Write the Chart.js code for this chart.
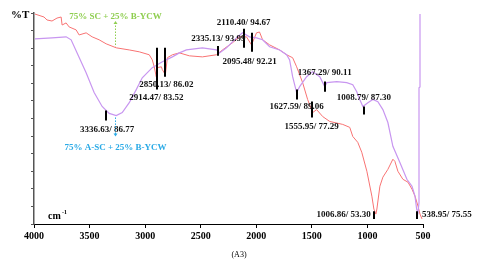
<!DOCTYPE html>
<html>
<head>
<meta charset="utf-8">
<script src="https://cdn.jsdelivr.net/npm/chart.js@4"></script>
<style>
  html, body { margin: 0; padding: 0; background: #fff; }
  canvas { display: block; }
</style>
</head>
<body>
<canvas id="ftir" width="480" height="261"></canvas>
<script>
// 75% SC + 25% B-YCW (red)
const redWn = [3991,3910,3883,3838,3793,3756,3747,3711,3684,3621,3594,3531,3477,3414,3351,3260,3143,3053,2963,2936,2918,2900,2891,2854,2845,2818,2800,2755,2692,2602,2485,2358,2304,2214,2151,2088,2043,1998,1971,1943,1880,1790,1727,1673,1637,1583,1538,1493,1457,1402,1339,1222,1159,1132,1087,1051,1005,960,942,924,915,888,861,816,771,753,726,681,635,599,572,545,527,509];
const redT = [99.5,98.1,96.7,96.2,97.6,98.1,94.3,95.3,93.4,92.0,89.6,90.6,88.7,87.3,85.4,83.5,82.5,81.6,80.2,77.8,74.5,69.8,74.1,74.5,73.1,70.8,78.8,80.2,81.1,79.7,79.2,80.2,82.5,85.9,88.7,88.7,84.9,90.6,91.0,87.3,84.9,82.5,80.2,78.8,74.5,67.0,59.0,52.8,54.2,50.9,48.6,47.2,45.8,41.5,38.7,34.0,25.0,13.2,7.1,4.7,7.1,17.9,22.2,25.9,30.7,29.7,25.0,21.2,19.8,16.5,13.2,8.5,4.7,2.4];

// 75% A-SC + 25% B-YCW (purple)
const purpleWn = [3991,3838,3711,3666,3612,3531,3459,3387,3323,3260,3206,3143,3080,3026,2936,2845,2755,2692,2629,2485,2358,2331,2268,2178,2124,2061,1998,1943,1880,1790,1727,1700,1673,1637,1610,1547,1493,1429,1384,1366,1276,1186,1132,1096,1069,1041,996,951,906,861,816,771,708,645,599,572,557,545,536,536,527,527];
const purpleT = [87.7,88.2,88.7,87.3,81.1,71.7,62.3,55.7,52.4,51.4,52.8,57.5,63.7,69.3,74.1,76.9,79.2,81.1,82.5,83.5,82.5,81.1,83.5,88.2,90.6,88.7,88.2,87.3,84.0,82.5,80.2,77.8,69.8,62.3,65.1,69.8,72.2,69.8,65.1,67.0,67.5,67.0,66.0,62.7,59.0,55.7,57.5,59.0,58.0,54.2,48.1,36.8,29.2,21.2,17.9,13.2,7.0,5.5,10.0,64.6,65.0,99.5];

// peak markers (short black bars)
const peakWn = [3351,2891,2818,2340,2115,2043,1637,1502,1384,1032,942,554];
const peakHi = [53.8,83.5,83.5,84.4,92.5,90.6,63.7,58.0,67.5,55.7,6.1,6.1];
const peakLo = [49.1,63.7,69.8,79.7,83.5,81.6,59.0,50.5,62.7,51.9,2.4,2.4];

// peak labels
const labelText = ['2110.40/ 94.67','2335.13/ 93.99','2095.48/ 92.21','2850.13/ 86.02','2914.47/ 83.52','3336.63/ 86.77','1367.29/ 90.11','1627.59/ 89.06','1008.79/ 87.30','1555.95/ 77.29','1006.86/ 53.30','538.95/ 75.55'];
const labelWn = [2115,2340,2061,2809,2900,3342,1384,1637,1032,1502,969,509];
const labelT = [95.3,87.7,76.9,66.0,59.9,44.8,71.7,55.7,59.9,46.2,4.2,4.2];
const labelAlign = ['center','center','center','center','center','center','center','center','center','center','right','left'];

const xTicks = [4000,3500,3000,2500,2000,1500,1000,500];

const serif = '"Liberation Serif", "DejaVu Serif", serif';

const toPts = (xs, ys) => xs.map((x, i) => ({ x: x, y: ys[i] }));

const notes = {
    id: 'notes',
    afterDatasetsDraw(chart) {
        const ctx = chart.ctx;
        const xs = chart.scales.x, ys = chart.scales.y;
        ctx.save();

        // peak bars
        ctx.strokeStyle = '#000';
        ctx.lineWidth = 2;
        peakWn.forEach((w, i) => {
            const px = Math.round(xs.getPixelForValue(w));
            ctx.beginPath();
            ctx.moveTo(px, ys.getPixelForValue(peakHi[i]));
            ctx.lineTo(px, ys.getPixelForValue(peakLo[i]));
            ctx.stroke();
        });

        // peak labels
        ctx.fillStyle = '#111';
        ctx.font = 'bold 9px ' + serif;
        ctx.textBaseline = 'middle';
        labelText.forEach((t, i) => {
            ctx.textAlign = labelAlign[i];
            ctx.fillText(t, xs.getPixelForValue(labelWn[i]), ys.getPixelForValue(labelT[i]));
        });

        // series captions with dotted pointers
        const cx = Math.round(xs.getPixelForValue(3269)) + 0.5;
        ctx.textAlign = 'center';
        ctx.font = 'bold 9px ' + serif;

        ctx.fillStyle = '#8fce50';
        ctx.fillText('75% SC + 25% B-YCW', cx, ys.getPixelForValue(98.1));
        ctx.strokeStyle = '#8fce50';
        ctx.lineWidth = 1;
        ctx.setLineDash([1.5, 1.5]);
        ctx.beginPath();
        ctx.moveTo(cx, ys.getPixelForValue(95.5));
        ctx.lineTo(cx, ys.getPixelForValue(84.0));
        ctx.stroke();
        ctx.setLineDash([]);
        let ty = ys.getPixelForValue(96.2);
        ctx.beginPath();
        ctx.moveTo(cx, ty);
        ctx.lineTo(cx - 2, ty + 3);
        ctx.lineTo(cx + 2, ty + 3);
        ctx.closePath();
        ctx.fillStyle = '#8fce50';
        ctx.fill();

        ctx.fillStyle = '#2aaae6';
        ctx.fillText('75% A-SC + 25% B-YCW', cx, ys.getPixelForValue(36.3));
        ctx.strokeStyle = '#2aaae6';
        ctx.setLineDash([1.5, 1.5]);
        ctx.beginPath();
        ctx.moveTo(cx, ys.getPixelForValue(50.5));
        ctx.lineTo(cx, ys.getPixelForValue(42.5));
        ctx.stroke();
        ctx.setLineDash([]);
        ty = ys.getPixelForValue(41.5);
        ctx.beginPath();
        ctx.moveTo(cx, ty);
        ctx.lineTo(cx - 2, ty - 3);
        ctx.lineTo(cx + 2, ty - 3);
        ctx.closePath();
        ctx.fillStyle = '#2aaae6';
        ctx.fill();

        // axis captions
        ctx.fillStyle = '#000';
        ctx.textAlign = 'left';
        ctx.font = 'bold 11px ' + serif;
        ctx.fillText('%T', 11, chart.chartArea.top + 2);
        ctx.font = 'bold 10px ' + serif;
        const by = chart.chartArea.bottom - 8;
        ctx.fillText('cm', 48, by);
        ctx.font = 'bold 6px ' + serif;
        ctx.fillText('-1', 48 + 14, by - 4);

        ctx.textAlign = 'center';
        ctx.font = '8px ' + serif;
        ctx.fillText('(A3)', 239, 255);

        ctx.restore();
    }
};

const ctx = document.getElementById('ftir').getContext('2d');

new Chart(ctx, {
    type: 'scatter',
    data: {
        datasets: [{
            label: '75% A-SC + 25% B-YCW',
            data: toPts(purpleWn, purpleT),
            showLine: true,
            borderColor: 'rgb(200, 150, 240)',
            borderWidth: 1.2,
            pointRadius: 0,
            tension: 0
        }, {
            label: '75% SC + 25% B-YCW',
            data: toPts(redWn, redT),
            showLine: true,
            borderColor: 'rgb(248, 115, 115)',
            borderWidth: 1,
            pointRadius: 0,
            tension: 0
        }]
    },
    options: {
        responsive: false,
        animation: false,
        devicePixelRatio: 1,
        layout: {
            padding: { left: 0, right: 57, top: 13, bottom: 0 }
        },
        plugins: {
            legend: { display: false },
            tooltip: { enabled: false }
        },
        scales: {
            x: {
                type: 'linear',
                reverse: true,
                min: 500,
                max: 4000,
                afterBuildTicks: scale => {
                    scale.ticks = xTicks.map(v => ({ value: v }));
                },
                afterFit: scale => { scale.height = 37; },
                border: { display: true, color: '#000', width: 1 },
                grid: {
                    drawOnChartArea: false,
                    drawTicks: true,
                    tickLength: 4,
                    color: '#000'
                },
                ticks: {
                    color: '#000',
                    padding: 2,
                    maxRotation: 0,
                    callback: v => String(v),
                    font: { family: serif, size: 10, weight: 'bold' }
                }
            },
            y: {
                min: 0,
                max: 100,
                afterBuildTicks: scale => {
                    const t = [];
                    for (let i = 0; i <= 12; i++) t.push({ value: i * 100 / 12 });
                    scale.ticks = t;
                },
                afterFit: scale => { scale.width = 34; },
                border: { display: true, color: '#555', width: 1.5 },
                grid: {
                    drawOnChartArea: false,
                    drawTicks: true,
                    tickLength: 3,
                    color: '#555'
                },
                ticks: { display: false }
            }
        }
    },
    plugins: [notes]
});
</script>
</body>
</html>
